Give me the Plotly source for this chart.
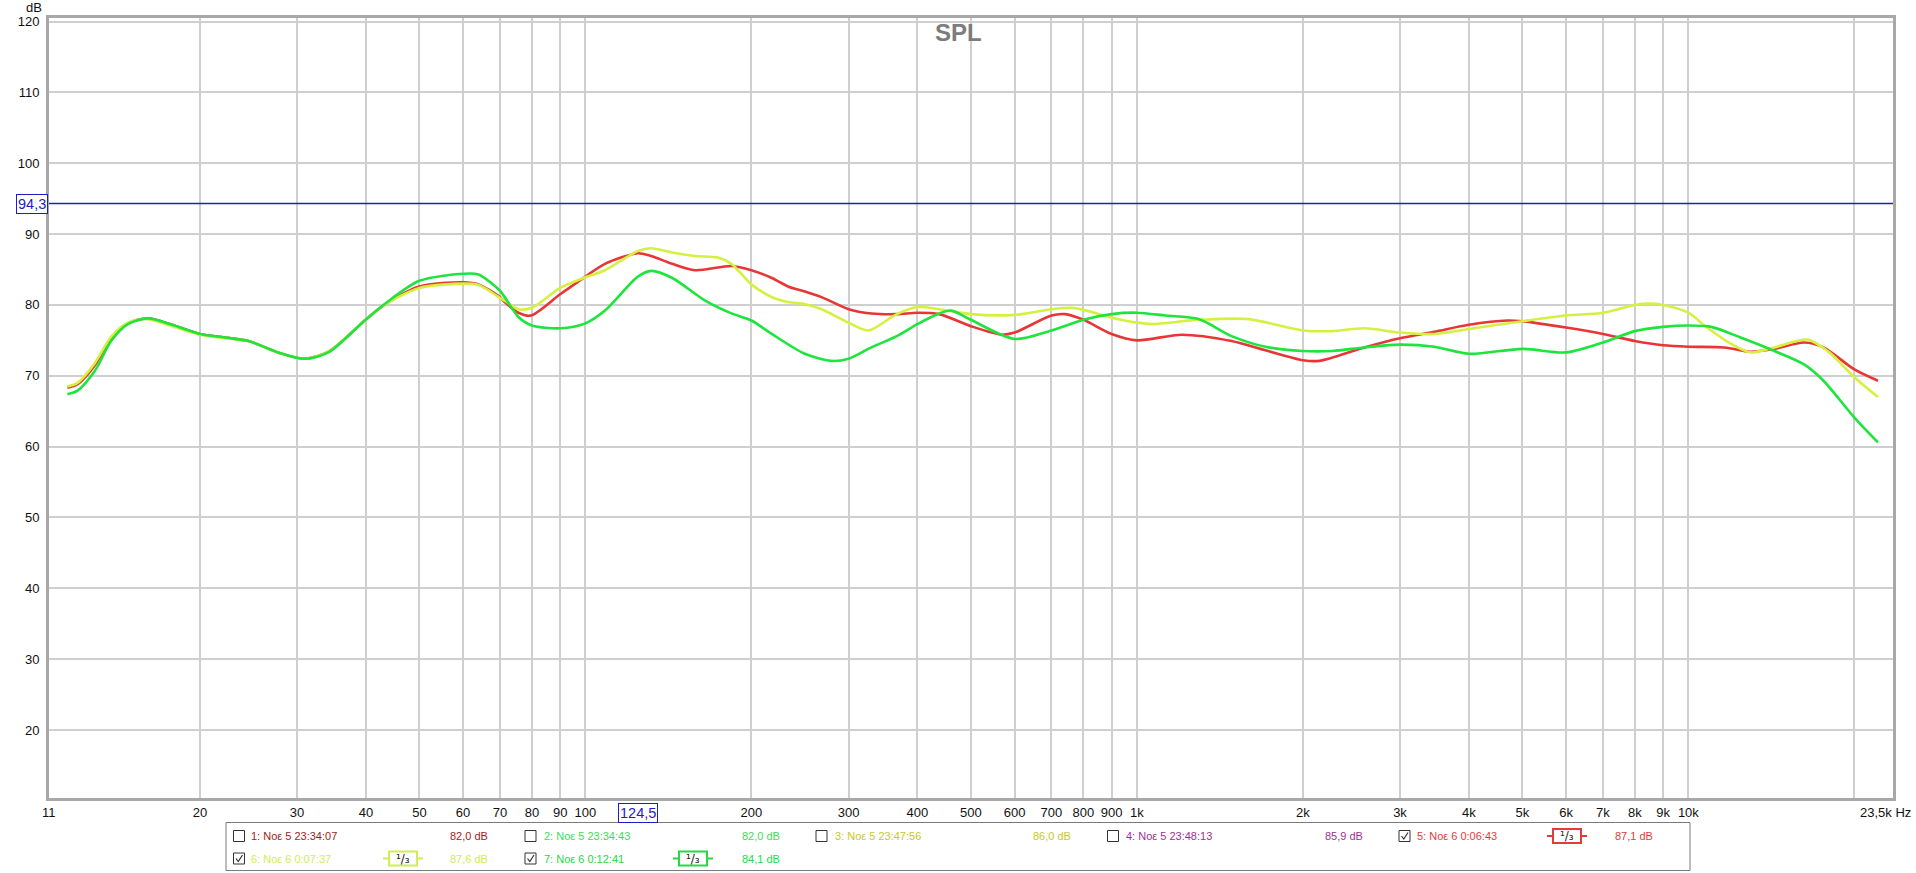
import math
import plotly.graph_objects as go

# ---------------- data ----------------
f5 = [11.5, 12.0, 12.9, 13.8, 14.8, 16.1, 17.8, 20, 22.2, 24.5, 27.7, 30.9, 34.2, 39.8, 43.2, 50,
      60, 64, 70, 71.4, 75.6, 79.6, 90, 100, 108.5, 124.5, 131.6, 143.7, 158, 184, 200, 217.8,
      233, 250, 268, 300, 330, 367, 400, 438, 500, 569, 600, 700, 741, 800, 900, 1000,
      1206, 1485, 1710, 2000, 2141, 2585, 3000, 3461, 4000, 4697, 5000, 6000, 7000, 8000, 9000, 10000,
      11630, 12970, 14320, 16210, 17580, 20000, 22070]
v5 = [68.3, 68.8, 71.5, 75.3, 77.4, 78.1, 77.2, 75.9, 75.4, 74.9, 73.3, 72.4, 73.4, 77.8, 80.0, 82.6,
      83.2, 82.9, 81.1, 80.4, 78.9, 78.5, 81.5, 84.0, 85.8, 87.3, 86.9, 85.8, 84.9, 85.5, 84.9, 83.8,
      82.6, 81.9, 81.1, 79.4, 78.8, 78.7, 78.9, 78.7, 77.0, 75.8, 76.1, 78.5, 78.7, 77.9, 75.9, 75.0,
      75.8, 74.9, 73.6, 72.2, 72.1, 74.0, 75.3, 76.2, 77.2, 77.8, 77.7, 76.8, 75.9, 74.9, 74.3, 74.1,
      74.0, 73.4, 73.8, 74.7, 74.0, 70.9, 69.3]

f6 = [11.5, 12.0, 12.9, 13.8, 14.8, 16.1, 17.8, 20, 22.2, 24.5, 27.7, 30.9, 34.2, 39.8, 43.2, 50,
      60, 64, 70, 71.4, 75.6, 80, 90, 100, 108.5, 124.5, 131.6, 143.7, 158, 174, 184, 200,
      217.8, 233, 250, 268, 300, 326, 367, 400, 438, 500, 600, 700, 760, 800, 900, 1000,
      1065, 1294, 1592, 2000, 2262, 2585, 3000, 3461, 4000, 5000, 6000, 7000, 8000, 8457, 9000, 10000,
      10690, 11960, 12970, 14320, 16450, 18010, 20000, 22070]
v6 = [68.5, 69.0, 71.8, 75.5, 77.5, 78.0, 77.0, 75.8, 75.3, 74.9, 73.3, 72.4, 73.4, 77.8, 80.0, 82.4,
      83.0, 82.8, 81.0, 80.6, 79.4, 79.6, 82.4, 83.9, 84.9, 87.6, 88.0, 87.4, 86.9, 86.7, 85.8, 82.9,
      81.1, 80.4, 80.1, 79.4, 77.5, 76.4, 78.7, 79.7, 79.4, 78.7, 78.6, 79.4, 79.6, 79.3, 78.2, 77.5,
      77.3, 77.9, 78.0, 76.4, 76.3, 76.7, 76.1, 75.9, 76.6, 77.7, 78.5, 78.9, 80.0, 80.2, 80.0, 78.9,
      77.1, 74.5, 73.3, 74.0, 75.1, 73.3, 69.8, 67.0]

f7 = [11.5, 12.0, 12.9, 13.8, 14.8, 16.1, 17.8, 20, 22.2, 24.5, 27.7, 30.9, 34.2, 39.8, 43.2, 50,
      60, 64, 70, 71.4, 75.6, 80, 90, 100, 108.5, 124.5, 131.6, 143.7, 164.9, 184, 200, 217.8,
      250, 279, 300, 330, 367, 400, 438, 461, 500, 600, 700, 800, 900, 1000, 1127, 1294,
      1485, 1710, 2000, 2262, 2585, 3000, 3461, 4000, 5000, 6000, 7000, 8000, 9000, 10000, 11000, 12440,
      14320, 16210, 17580, 20000, 22070]
v7 = [67.4, 67.9, 70.7, 74.9, 77.3, 78.1, 77.2, 75.9, 75.4, 74.9, 73.3, 72.4, 73.3, 77.8, 80.1, 83.4,
      84.4, 84.3, 82.0, 81.1, 78.3, 77.1, 76.7, 77.4, 79.2, 84.0, 84.8, 83.8, 80.6, 78.8, 77.8, 75.9,
      73.1, 72.1, 72.4, 74.0, 75.6, 77.3, 78.8, 79.2, 77.9, 75.2, 76.4, 77.9, 78.7, 78.9, 78.5, 78.0,
      75.6, 74.1, 73.5, 73.5, 74.0, 74.4, 74.1, 73.1, 73.8, 73.3, 74.7, 76.3, 76.9, 77.1, 76.9, 75.4,
      73.5, 71.6, 69.3, 64.1, 60.6]

x_ticks = [20, 30, 40, 50, 60, 70, 80, 90, 100, 200, 300, 400, 500, 600, 700, 800, 900,
           1000, 2000, 3000, 4000, 5000, 6000, 7000, 8000, 9000, 10000, 20000]
x_tick_text = ["20", "30", "40", "50", "60", "70", "80", "90", "100", "200", "300", "400", "500",
               "600", "700", "800", "900", "1k", "2k", "3k", "4k", "5k", "6k", "7k", "8k", "9k", "10k", ""]
y_ticks = [20, 30, 40, 50, 60, 70, 80, 90, 100, 110, 120]
x_min, x_max = 10.65, 23500
y_min, y_max = 10.4, 120.5
cursor_f, cursor_db = 124.5, 94.3

legend_row1 = [
    ("1: Νοε 5 23:34:07", "82,0 dB", "#a01c1c", False, False),
    ("2: Νοε 5 23:34:43", "82,0 dB", "#3cdc55", False, False),
    ("3: Νοε 5 23:47:56", "86,0 dB", "#c8c828", False, False),
    ("4: Νοε 5 23:48:13", "85,9 dB", "#a0308e", False, False),
    ("5: Νοε 6 0:06:43", "87,1 dB", "#e43a3a", True, True),
]
legend_row2 = [
    ("6: Νοε 6 0:07:37", "87,6 dB", "#cdee55", True, True),
    ("7: Νοε 6 0:12:41", "84,1 dB", "#26d848", True, True),
]

C_RED, C_YEL, C_GRN = "#e83636", "#d6f040", "#1ee43e"
BLUE = "#1c1cc8"

# ---------------- layout geometry ----------------
W, H = 1916, 873
L, R, T, B = 49, 1893, 18, 798


def px(x):
    return (x - L) / (R - L)


def py(y):
    return (B - y) / (B - T)


fig = go.Figure()
for f, v, c, n in [(f5, v5, C_RED, "5"), (f6, v6, C_YEL, "6"), (f7, v7, C_GRN, "7")]:
    fig.add_trace(go.Scatter(x=f, y=v, mode="lines", name=n,
                             line=dict(color=c, width=2.6, shape="spline", smoothing=0.8),
                             hoverinfo="skip"))

FONT = "Liberation Sans, Arial, sans-serif"
fig.update_layout(
    width=W, height=H,
    margin=dict(l=L, r=W - R, t=T, b=H - B),
    paper_bgcolor="white", plot_bgcolor="white",
    showlegend=False,
    font=dict(family=FONT, size=13, color="#111111"),
)
fig.update_xaxes(type="log", range=[math.log10(x_min), math.log10(x_max)],
                 tickvals=x_ticks, ticktext=x_tick_text,
                 showgrid=True, gridcolor="#cfcfcf", gridwidth=1.5,
                 showline=True, linecolor="#a8a8a8", linewidth=3, mirror=True,
                 ticks="", ticklabelstandoff=0, zeroline=False,
                 tickfont=dict(size=13, family=FONT, color="#111111"))
fig.update_yaxes(range=[y_min, y_max], tickvals=y_ticks,
                 showgrid=True, gridcolor="#cfcfcf", gridwidth=1.5,
                 showline=True, linecolor="#a8a8a8", linewidth=3, mirror=True,
                 ticks="", ticklabelstandoff=4, zeroline=False,
                 tickfont=dict(size=13, family=FONT, color="#111111"))

shapes = []
annos = []


def note(x, y, text, size=13, color="#111111", xanchor="center", **kw):
    d = dict(xref="paper", yref="paper", x=px(x), y=py(y), text=text, showarrow=False,
             xanchor=xanchor, yanchor="middle", font=dict(size=size, color=color, family=FONT))
    d.update(kw)
    annos.append(d)


# cursor lines
shapes.append(dict(type="line", xref="x", yref="paper",
                   x0=math.log10(cursor_f), x1=math.log10(cursor_f), y0=py(804), y1=1,
                   line=dict(color=BLUE, width=1.5)))
shapes.append(dict(type="line", xref="paper", yref="y", x0=0, x1=1, y0=cursor_db, y1=cursor_db,
                   line=dict(color=BLUE, width=1.5)))
annos.append(dict(xref="x", yref="paper", x=math.log10(cursor_f), y=py(813), yanchor="middle",
                  text="124,5", showarrow=False, bgcolor="white", bordercolor=BLUE, borderwidth=1,
                  borderpad=1, font=dict(color=BLUE, size=14.5, family=FONT)))
annos.append(dict(xref="paper", yref="y", x=px(48), y=cursor_db, xanchor="right", yanchor="middle",
                  text="94,3", showarrow=False, bgcolor="white", bordercolor=BLUE, borderwidth=1,
                  borderpad=1, font=dict(color=BLUE, size=14.5, family=FONT)))

# title and axis-unit labels
note(958, 32, "<b>SPL</b>", size=24, color="#7c7c7c")
note(34, 7, "dB")
note(49, 812, "11")
note(1913, 812, "23,5k Hz", xanchor="right")

# legend panel
shapes.append(dict(type="rect", xref="paper", yref="paper", x0=px(226), x1=px(1690),
                   y0=py(870.5), y1=py(822.5), line=dict(color="#7a7a7a", width=1),
                   fillcolor="white", layer="above"))

cols = [(233.5, 249, 403, 448), (525, 541.5, 693, 740), (816, 833, None, 1031),
        (1107.5, 1124, None, 1323), (1399, 1415, 1567, 1613)]


def legend_entry(col, row_y, entry):
    cbx, tx, fx, dx = col
    label, db, color, checked, filt = entry
    shapes.append(dict(type="rect", xref="paper", yref="paper",
                       x0=px(cbx), x1=px(cbx + 11), y0=py(row_y + 5.5), y1=py(row_y - 5.5),
                       line=dict(color="#333333", width=1), fillcolor="white", layer="above"))
    if checked:
        path = "M {} {} L {} {} L {} {}".format(px(cbx + 2.5), py(row_y), px(cbx + 4.8), py(row_y + 3),
                                               px(cbx + 9), py(row_y - 3.5))
        shapes.append(dict(type="path", xref="paper", yref="paper", path=path,
                           line=dict(color="#333333", width=1.2), layer="above"))
    note(tx, row_y, label, size=11, color=color, xanchor="left")
    note(dx, row_y, db, size=11, color=color, xanchor="left")
    if filt and fx is not None:
        shapes.append(dict(type="line", xref="paper", yref="paper", x0=px(fx - 20), x1=px(fx + 20),
                           y0=py(row_y), y1=py(row_y), line=dict(color=color, width=2), layer="above"))
        shapes.append(dict(type="rect", xref="paper", yref="paper", x0=px(fx - 14), x1=px(fx + 14),
                           y0=py(row_y + 7), y1=py(row_y - 7), line=dict(color=color, width=2),
                           fillcolor="white", layer="above"))
        annos.append(dict(xref="paper", yref="paper", x=px(fx), y=py(row_y), xanchor="center",
                          yanchor="middle", text="¹/₃", showarrow=False,
                          font=dict(size=12, color="#222222", family="DejaVu Sans")))


for col, entry in zip(cols, legend_row1):
    legend_entry(col, 836, entry)
for col, entry in zip(cols, legend_row2):
    legend_entry(col, 858.5, entry)

fig.update_layout(shapes=shapes, annotations=annos)
fig.write_html("out.html", config={"displayModeBar": False},
               post_script="document.body.style.margin='0';document.body.style.overflow='hidden';")
